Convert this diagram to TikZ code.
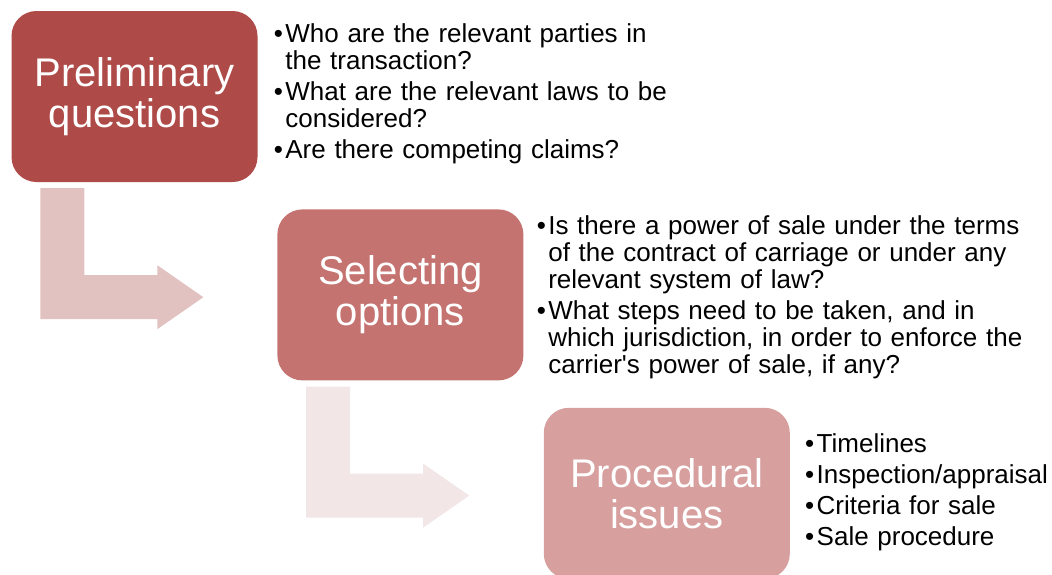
\documentclass[tikz,border=0pt]{standalone}
\usepackage{fontspec}
\setmainfont{Liberation Sans}
\usetikzlibrary{positioning}
\definecolor{stageone}{RGB}{174,74,71}
\definecolor{stagetwo}{RGB}{196,115,112}
\definecolor{stagethree}{RGB}{215,160,159}
\definecolor{bendone}{RGB}{226,193,193}
\definecolor{bendtwo}{RGB}{242,230,230}
\newcommand{\bitem}[1]{\leavevmode\makebox[11.5pt][l]{\textbullet}#1\hangindent=11.5pt\hangafter=1\par}

\begin{document}
\begin{tikzpicture}[x=1pt, y=-1pt,
    stage/.style={rectangle, rounded corners=25pt, minimum width=246pt,
                  minimum height=171pt, inner sep=0pt, align=center,
                  text=white, font=\fontsize{40}{41}\selectfont},
    notes/.style={anchor=north west, inner sep=0pt, align=left,
                  font=\fontsize{26}{27}\selectfont,
                  execute at begin node={\setlength{\parskip}{4pt}}},
    bentarrow/.pic={
        \path[pic actions] (0,0) -- (44,0) -- (44,87) -- (117,87) -- (117,77)
            -- (163,109) -- (117,141) -- (117,131) -- (0,131) -- cycle;
    }
]
    \useasboundingbox (0,0) rectangle (1052,574);

    \node[stage, fill=stageone] (prelim) at (134.5,96.5) {Preliminary\\questions};
    \node[stage, fill=stagetwo, below right=27pt and 19.5pt of prelim] (options) {Selecting\\options};
    \node[stage, fill=stagethree, below right=27pt and 20pt of options] (procedural) {Procedural\\issues};

    \pic[fill=bendone] at ([shift={(29,6)}]prelim.south west) {bentarrow};
    \pic[fill=bendtwo] at ([shift={(29,6)}]options.south west) {bentarrow};

    \node[notes, text width=420pt, below right=13pt and 16pt of prelim.north east] (prelimnotes)
        {\bitem{Who are the relevant parties in\newline the transaction?}
         \bitem{What are the relevant laws to be\newline considered?}
         \bitem{Are there competing claims?}};
    \node[notes, text width=505pt, below right=6pt and 13pt of options.north east] (optionsnotes)
        {\bitem{Is there a power of sale under the terms\newline of the contract of carriage or under any\newline relevant system of law?}
         \bitem{What steps need to be taken, and in\newline which jurisdiction, in order to enforce the\newline carrier\textquotesingle s power of sale, if any?}};
    \node[notes, text width=245pt, below right=26pt and 15pt of procedural.north east] (proceduralnotes)
        {\bitem{Timelines}
         \bitem{Inspection/appraisal}
         \bitem{Criteria for sale}
         \bitem{Sale procedure}};
\end{tikzpicture}
\end{document}
